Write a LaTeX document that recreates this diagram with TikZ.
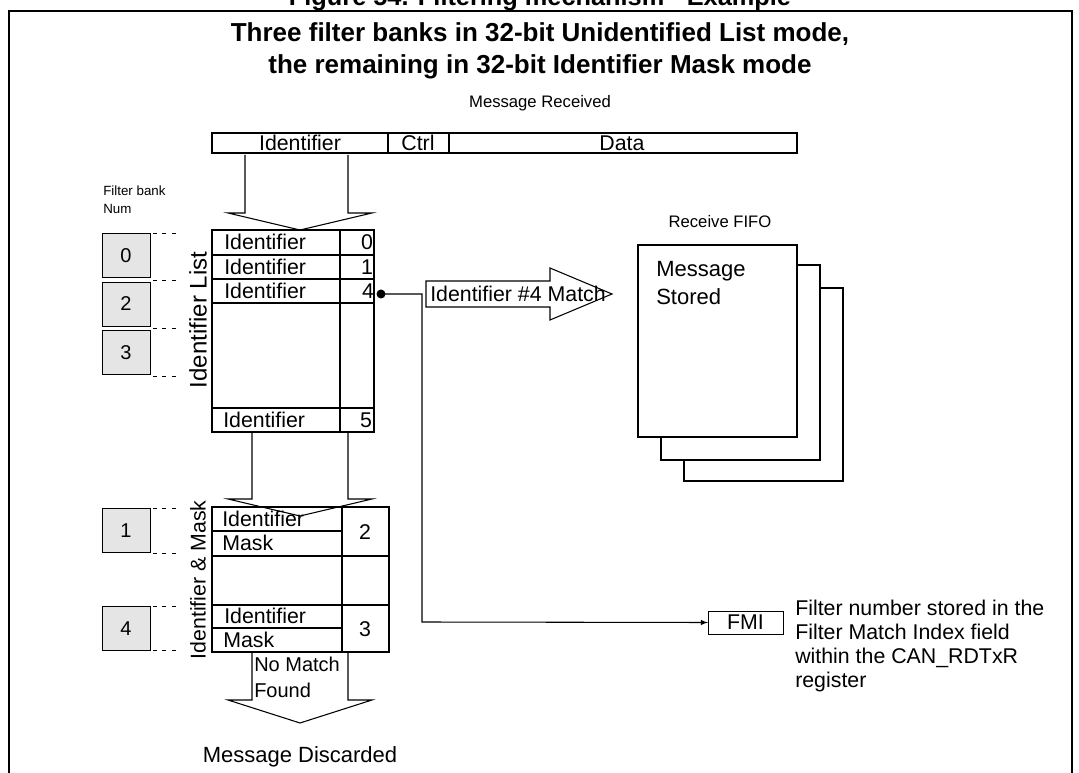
\documentclass[tikz,border=0pt]{standalone}
\usepackage{fontspec}
\setmainfont{Liberation Sans}
\newcommand{\fs}[1]{\fontsize{#1}{#1}\selectfont}
\begin{document}
\begin{tikzpicture}[x=0.75pt,y=-0.75pt,
 txt/.style={inner sep=0pt,font=\fs{16}},
 cell/.style={draw,line width=1pt},
 gbox/.style={draw,fill=gray!20,minimum width=36pt,minimum height=33pt,inner sep=0pt,font=\fs{15}},
 dsh/.style={dash pattern=on 3pt off 4pt,line width=0.5pt},
 bigarrow/.style={draw,fill=white,line width=0.8pt}]
\useasboundingbox (0,0) rectangle (1079,773);
\clip (0,0) rectangle (1079,773);
% frame
\draw[line width=1.2pt] (9,800) -- (9,11) -- (1072,11) -- (1072,800);
\node[txt,font=\bfseries\fs{19}] (fig) at (540,-1) {Figure 54. Filtering mechanism - Example};
\node[txt,font=\bfseries\fontsize{19.5}{24}\selectfont,align=center] (title) at (540,51) {Three filter banks in 32-bit Unidentified List mode,\\the remaining in 32-bit Identifier Mask mode};
\node[txt,font=\fs{12.5}] (recv) at (540,103) {Message Received};
% message bar
\draw[cell] (212,133) rectangle (797,153);
\draw[cell] (388,133) -- (388,153) (449,133) -- (449,153);
\node[txt] (mid) at (300,143) {Identifier};
\node[txt] (mctrl) at (418,143) {Ctrl};
\node[txt] (mdata) at (622,143) {Data};
% arrows down
\draw[bigarrow] (245,155) -- (245,213) -- (228,213) -- (300,230) -- (372,213) -- (348,213) -- (348,155);
\draw[bigarrow] (252,433) -- (252,499) -- (228,499) -- (300,516) -- (372,499) -- (348,499) -- (348,433);
\draw[bigarrow] (252,653) -- (252,700) -- (228,700) -- (300,723) -- (372,700) -- (348,700) -- (348,653);
\node[txt,align=left,anchor=north west,font=\fontsize{15}{19}\selectfont] (nm) at (254,657) {No Match\\Found};
\node[txt,font=\fs{16.5}] (disc) at (300,757) {Message Discarded};
% filter bank num
\node[txt,align=left,anchor=north west,font=\fontsize{10}{13}\selectfont] (fbn) at (103,186) {Filter bank\\Num};
\node[gbox] (b0) at (126,255.5) {0};
\node[gbox] (b2) at (126,304) {2};
\node[gbox] (b3) at (126,352.5) {3};
\node[gbox] (b1) at (126,530.5) {1};
\node[gbox] (b4) at (126,628.5) {4};
\foreach \y in {233,280,328,376,508,553,606,650} \draw[dsh] (153,\y) -- (180,\y);
% identifier list table
\draw[cell] (212,230) rectangle (374,432);
\draw[cell] (340,230) -- (340,432);
\foreach \y in {255,279,303,408} \draw[cell] (212,\y) -- (374,\y);
\node[txt,anchor=west] (i0) at (224,242) {Identifier};
\node[txt,anchor=west] (i1) at (224,267) {Identifier};
\node[txt,anchor=west] (i4) at (224,291) {Identifier};
\node[txt,anchor=west] (i5) at (223,420) {Identifier};
\node[txt] (n0) at (367,242) {0};
\node[txt] (n1) at (367,267) {1};
\node[txt] (n4) at (368,291) {4};
\node[txt] (n5) at (366,420) {5};
\node[txt,rotate=90,font=\fs{18}] (il) at (198,320) {Identifier List};
% mask table
\draw[cell] (212,507) rectangle (389,652);
\draw[cell] (342,507) -- (342,652);
\draw[cell] (212,556) -- (389,556) (212,605) -- (389,605);
\draw[cell] (212,531) -- (342,531) (212,628) -- (342,628);
\node[txt,anchor=west] (m1) at (222,519) {Identifier};
\node[txt,anchor=west] (m2) at (222,543) {Mask};
\node[txt,anchor=west] (m3) at (224,616) {Identifier};
\node[txt,anchor=west] (m4) at (223,640) {Mask};
\node[txt] (k2) at (365,532) {2};
\node[txt] (k3) at (365,629) {3};
\node[txt,rotate=90,font=\fs{16}] (iml) at (198,580) {Identifier \& Mask};
% match arrow
\draw[bigarrow] (426,281) -- (550,281) -- (550,268) -- (612,294) -- (550,320) -- (550,307) -- (426,307) -- cycle;
\node[txt,anchor=west] (match) at (430,294) {Identifier \#4 Match};
% FIFO
\node[txt,font=\fs{12.5}] (fifo) at (720,222) {Receive FIFO};
\draw[line width=0.8pt,fill=white] (684,288) rectangle (843,481);
\draw[line width=0.8pt,fill=white] (661,265) rectangle (820,460);
\draw[line width=0.8pt,fill=white] (638,245) rectangle (797,437);
\node[txt,align=left,anchor=north west,font=\fontsize{16.5}{21}\selectfont] (ms) at (656,261) {Message\\Stored};
% FMI
\coordinate (dot) at (381,294);
\fill (dot) circle (4.5);
\node[draw,minimum width=56pt,minimum height=17pt,inner sep=0pt,font=\fs{16}] (fmi) at (745.5,622.5) {FMI};
\draw[line width=0.8pt,-latex] (dot) -- (422,294) -- (422,622) -- (fmi.west);
\node[txt,align=left,anchor=north west,font=\fontsize{16}{18}\selectfont] (desc) at (795,600) {Filter number stored in the\\Filter Match Index field\\within the CAN\_RDTxR\\register};
\end{tikzpicture}
\end{document}
